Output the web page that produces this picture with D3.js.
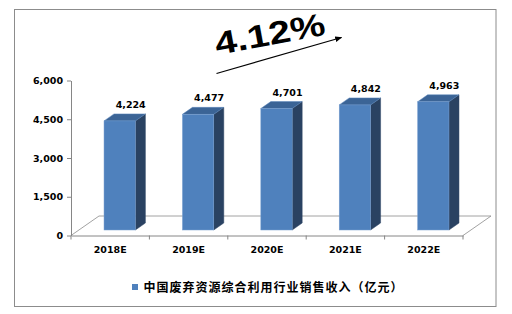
<!DOCTYPE html>
<html><head><meta charset="utf-8">
<script src="https://cdn.jsdelivr.net/npm/d3@7"></script>
<style>body{margin:0;background:#fff}svg{display:block}</style>
</head><body><svg id="c" width="512" height="314"></svg>
<script>
const categories = ["2018E","2019E","2020E","2021E","2022E"];
const values = [4224,4477,4701,4842,4963];
const yTicks = [0,1500,3000,4500,6000];
const seriesName = "中国废弃资源综合利用行业销售收入（亿元）";
const cagrLabel = "4.12%";

const svg = d3.select("#c");
svg.append("rect").attr("x",14.5).attr("y",9.5).attr("width",481.5).attr("height",297)
  .attr("fill","#fff").attr("stroke","#8c8c8c").attr("stroke-width",1);

const x = d3.scaleBand().domain(categories).range([71,463]).paddingInner(0);
const y = d3.scaleLinear().domain([0,6000]).range([235.5,80.5]);
const floorDx = 28, floorDy = -19.5;
const offX = 9.5, offY = -5.5;
const depX = 10, depY = -7;
const bw = x.bandwidth()*0.4;

const g = svg.append("g");
const lineC = "#868686";
const y0 = y(0);
g.append("path").attr("fill","none").attr("stroke","#8a8a8a").attr("stroke-width",0.8)
  .attr("d",`M${x.range()[0]},${y0}L${x.range()[0]+floorDx},${y0+floorDy}L${x.range()[1]+floorDx},${y0+floorDy}L${x.range()[1]},${y0}`);

categories.forEach((c,i)=>{
  const v = values[i];
  const xl = x(c) + x.bandwidth()/2 - bw/2 + offX;
  const xr = xl + bw;
  const yb = y(0) + offY;
  const yt = y(v) + offY;
  g.append("path").attr("fill","#2a4262").attr("stroke","#2a4262").attr("stroke-width",0.5)
    .attr("d",`M${xr},${yb}L${xr+depX},${yb+depY}L${xr+depX},${yt+depY}L${xr},${yt}Z`);
  g.append("path").attr("fill","#3b6496").attr("stroke","#5a86bd").attr("stroke-width",0.5)
    .attr("d",`M${xl},${yt}L${xl+depX},${yt+depY}L${xr+depX},${yt+depY}L${xr},${yt}Z`);
  g.append("rect").attr("x",xl).attr("y",yt).attr("width",bw).attr("height",yb-yt)
    .attr("fill","#4f81bd").attr("stroke","#7aa0d0").attr("stroke-width",0.5);
  g.append("text").attr("x",xl+bw/2+11).attr("y",yt-13)
    .attr("text-anchor","middle").attr("font-family","DejaVu Sans").attr("font-weight","bold")
    .attr("font-size",9.5).attr("fill","#000").text(d3.format(",")(v));
});

const ya = svg.append("g").attr("transform","translate(71,0)")
  .call(d3.axisLeft(y).tickValues(yTicks).tickFormat(d3.format(",")).tickSize(4).tickSizeOuter(0));
ya.select(".domain").attr("stroke",lineC);
ya.selectAll(".tick line").attr("stroke",lineC);
ya.selectAll(".tick text").attr("x",-8).attr("font-family","DejaVu Sans").attr("font-weight","bold")
  .attr("font-size",9.5).attr("fill","#000");

const xa = svg.append("g").attr("transform",`translate(0,${y0})`)
  .call(d3.axisBottom(x).tickSize(0).tickSizeOuter(0));
xa.select(".domain").attr("stroke",lineC);
xa.selectAll(".tick text").attr("y",11).attr("font-family","DejaVu Sans").attr("font-weight","bold")
  .attr("font-size",9.5).attr("fill","#000");
const bounds = categories.map(c=>x(c)).concat([x.range()[1]]);
xa.selectAll("line.b").data(bounds).enter().append("line").attr("class","b")
  .attr("x1",d=>d).attr("x2",d=>d).attr("y1",0).attr("y2",4).attr("stroke",lineC);

svg.append("rect").attr("x",132).attr("y",284).attr("width",6).attr("height",6).attr("fill","#4f81bd");
svg.append("text").attr("x",143.5).attr("y",291.5).attr("font-family","Noto Sans CJK SC")
  .attr("font-weight","bold").attr("font-size",12).attr("letter-spacing",1.0).attr("fill","#000")
  .text(seriesName);

svg.append("defs").append("marker").attr("id","ah").attr("viewBox","0 0 10 10")
  .attr("refX",9).attr("refY",5).attr("markerWidth",7).attr("markerHeight",7).attr("orient","auto")
  .attr("markerUnits","userSpaceOnUse")
  .append("path").attr("d","M0,1L10,5L0,9Z").attr("fill","#000");
svg.append("line").attr("x1",216.5).attr("y1",73.5).attr("x2",341.5).attr("y2",37.5)
  .attr("stroke","#000").attr("stroke-width",1.2).attr("marker-end","url(#ah)");
svg.append("text").attr("transform","translate(217,55) rotate(-10.5) scale(1.23,1)")
  .attr("font-family","Liberation Sans").attr("font-weight","bold").attr("font-size",32)
  .attr("fill","#000").text(cagrLabel);
</script></body></html>
